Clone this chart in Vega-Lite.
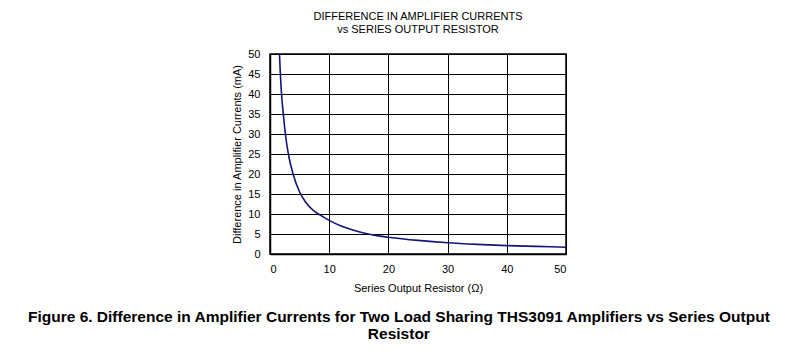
{
  "$schema": "https://vega.github.io/schema/vega-lite/v6.json",
  "padding": {"left": 27, "top": 10, "right": 5, "bottom": 5},
  "background": "white",
  "config": {
    "font": "Liberation Sans",
    "view": {"stroke": "black", "strokeWidth": 1.5},
    "axis": {"labelFont": "Liberation Sans", "titleFont": "Liberation Sans", "labelColor": "black", "titleColor": "black", "titleFontWeight": "normal", "labelFontSize": 11, "titleFontSize": 11, "ticks": false, "domainColor": "black", "domainWidth": 1.5, "gridColor": "black", "gridOpacity": 1, "gridWidth": 1}
  },
  "title": {
    "text": ["Figure 6. Difference in Amplifier Currents for Two Load Sharing THS3091 Amplifiers vs Series Output", "Resistor"],
    "orient": "bottom",
    "anchor": "middle",
    "font": "Liberation Sans",
    "fontSize": 15.5,
    "fontWeight": "bold",
    "color": "black",
    "lineHeight": 17,
    "offset": 16
  },
  "vconcat": [
    {
      "width": 296,
      "height": 200,
      "title": {
        "text": ["DIFFERENCE IN AMPLIFIER CURRENTS", "vs SERIES OUTPUT RESISTOR"],
        "anchor": "middle",
        "frame": "group",
        "font": "Liberation Sans",
        "fontSize": 11,
        "fontWeight": "normal",
        "color": "black",
        "lineHeight": 13,
        "offset": 13
      },
      "data": {"values": [
        {"r": 1.6, "d": 50},
        {"r": 1.75, "d": 45},
        {"r": 1.95, "d": 40},
        {"r": 2.25, "d": 35},
        {"r": 2.6, "d": 30},
        {"r": 3.1, "d": 25},
        {"r": 3.9, "d": 20},
        {"r": 5.0, "d": 15.5},
        {"r": 6.0, "d": 13},
        {"r": 7.4, "d": 10.8},
        {"r": 8.5, "d": 9.7},
        {"r": 10, "d": 8.4},
        {"r": 12, "d": 7.0},
        {"r": 14, "d": 6.0},
        {"r": 16, "d": 5.2},
        {"r": 18, "d": 4.6},
        {"r": 20, "d": 4.2},
        {"r": 25, "d": 3.4},
        {"r": 30, "d": 2.8},
        {"r": 35, "d": 2.4},
        {"r": 40, "d": 2.1},
        {"r": 45, "d": 1.9},
        {"r": 50, "d": 1.7}
      ]},
      "mark": {"type": "line", "color": "#14147a", "strokeWidth": 1.6, "interpolate": "monotone", "clip": true},
      "encoding": {
        "x": {"field": "r", "type": "quantitative", "scale": {"domain": [0, 50], "nice": false}, "axis": {"values": [0, 10, 20, 30, 40, 50], "title": "Series Output Resistor (Ω)", "labelPadding": 9, "titlePadding": 8}},
        "y": {"field": "d", "type": "quantitative", "scale": {"domain": [0, 50], "nice": false}, "axis": {"values": [0, 5, 10, 15, 20, 25, 30, 35, 40, 45, 50], "title": "Difference in Amplifier Currents (mA)", "labelPadding": 10, "titlePadding": 5}}
      }
    }
  ]
}
